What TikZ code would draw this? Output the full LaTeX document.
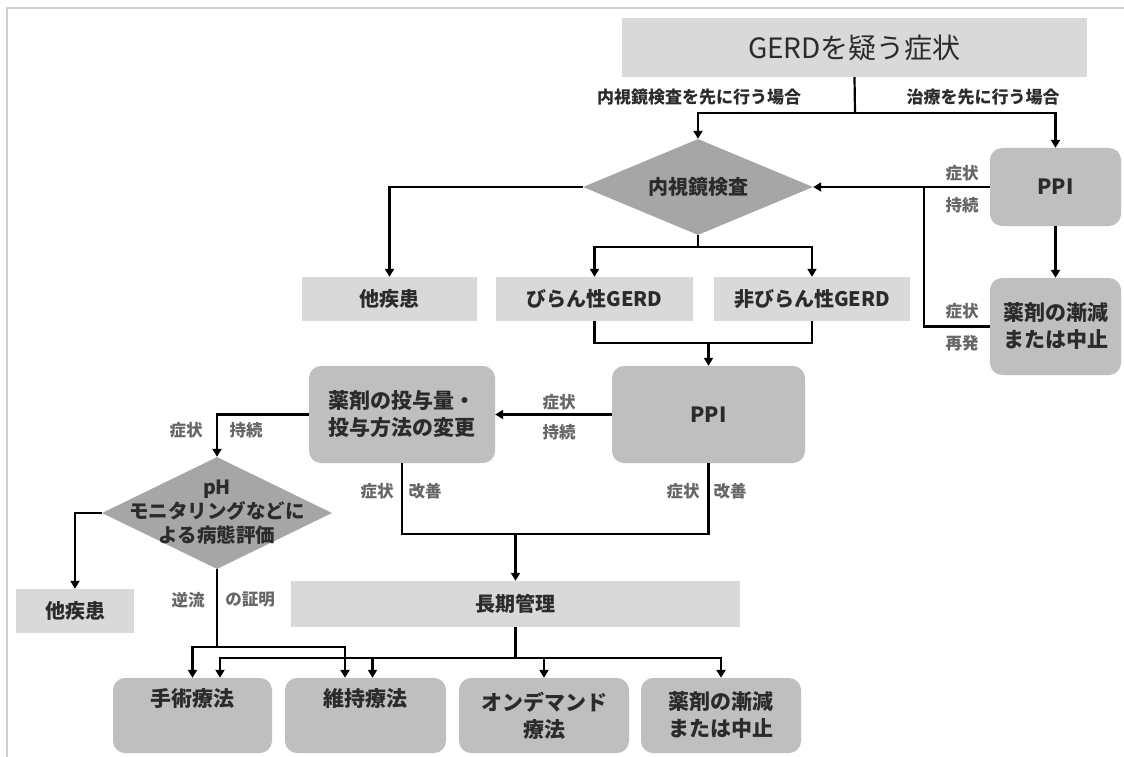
\documentclass[tikz,border=0pt]{standalone}
\usepackage{fontspec}
\setmainfont{Noto Sans CJK JP}
\usetikzlibrary{arrows.meta,shapes.geometric}
\definecolor{boxlight}{HTML}{D9D9D9}
\definecolor{boxmid}{HTML}{BFBFBF}
\definecolor{diagray}{HTML}{A6A6A6}
\definecolor{labgray}{HTML}{666666}
\definecolor{txt}{HTML}{2B2B2B}
\definecolor{frameclr}{HTML}{D0D0D0}
\begin{document}
\begin{tikzpicture}[x=1pt,y=-1pt,
  flat/.style={rectangle,fill=boxlight,inner sep=0pt,text=txt,minimum height=44pt,font=\bfseries\fontsize{20}{25}\selectfont},
  rbox/.style={rectangle,rounded corners=12pt,fill=boxmid,inner sep=0pt,text=txt,align=center,font=\bfseries\fontsize{21}{27}\selectfont},
  diabox/.style={diamond,fill=diagray,inner sep=0pt,shape aspect=2.4},
  diatext/.style={text=txt,align=center,inner sep=0pt,font=\bfseries\fontsize{20}{24}\selectfont},
  conn/.style={line width=2.2pt,draw=black},
  arr/.style={conn,-{Triangle[length=8pt,width=9pt]}},
  lab/.style={text=labgray,inner sep=0pt,font=\bfseries\fontsize{16.5}{18}\selectfont},
  toplab/.style={text=txt,inner sep=0pt,font=\bfseries\fontsize{17}{19}\selectfont}
]
\useasboundingbox (0,0) rectangle (1124,757);
\fill[white] (0,0) rectangle (1124,757);
\draw[draw=frameclr,line width=1.8pt] (7,757) -- (7,8) -- (1124,8);

% nodes
\node[flat,minimum width=465pt,minimum height=59pt,font=\fontsize{28}{32}\selectfont] (gerd) at (854.5,47.5) {GERDを疑う症状};
\node[toplab] (lab1) at (699,97) {内視鏡検査を先に行う場合};
\node[toplab] (lab2) at (983,97) {治療を先に行う場合};

\node[diabox,minimum width=230pt,minimum height=96pt] (d1) at (698,187) {};
\node[diatext] (d1t) at (698,187) {内視鏡検査};

\node[rbox,minimum width=131pt,minimum height=78pt] (ppiR) at (1055.5,187) {PPI};
\node[rbox,minimum width=131pt,minimum height=97pt] (genR) at (1055.5,326.5) {薬剤の漸減\\または中止};

\node[flat,minimum width=175pt] (other1) at (389.5,299) {他疾患};
\node[flat,minimum width=197pt] (erosive) at (594.5,299) {びらん性GERD};
\node[flat,minimum width=196pt] (nonerosive) at (812,299) {非びらん性GERD};

\node[rbox,minimum width=193pt,minimum height=97pt] (ppiC) at (708.5,414.5) {PPI};
\node[rbox,minimum width=186pt,minimum height=97pt] (change) at (402,414.5) {薬剤の投与量・\\投与方法の変更};

\node[diabox,minimum width=230pt,minimum height=112pt] (d2) at (217,513) {};
\node[diatext,font=\bfseries\fontsize{19.5}{24}\selectfont] (d2t) at (217,512) {pH\\モニタリングなどに\\よる病態評価};

\node[flat,minimum width=118pt] (other2) at (75,611) {他疾患};
\node[flat,minimum width=449pt,minimum height=46pt] (longterm) at (515.5,604) {長期管理};

\node[rbox,minimum width=159pt,minimum height=75pt] (surg) at (192.5,715.5) {手術療法\\\strut};
\node[rbox,minimum width=161pt,minimum height=75pt] (maint) at (365.5,715.5) {維持療法\\\strut};
\node[rbox,minimum width=170pt,minimum height=75pt] (ondemand) at (544,715.5) {オンデマンド\\療法};
\node[rbox,minimum width=160pt,minimum height=75pt] (taper) at (721,715.5) {薬剤の漸減\\または中止};

% labels
\node[lab] (l1a) at (962,173) {症状};
\node[lab] (l1b) at (962,205) {持続};
\node[lab] (l2a) at (962,311) {症状};
\node[lab] (l2b) at (962,343) {再発};
\node[lab] (l3a) at (559,402) {症状};
\node[lab] (l3b) at (559,432) {持続};
\node[lab] (l4a) at (186,430) {症状};
\node[lab] (l4b) at (246,430) {持続};
\node[lab] (l5a) at (377,491) {症状};
\node[lab] (l5b) at (425,491) {改善};
\node[lab] (l6a) at (683,491) {症状};
\node[lab] (l6b) at (730,491) {改善};
\node[lab] (l7a) at (188,600) {逆流};
\node[lab] (l7b) at (250,600) {の証明};

% connectors
\coordinate (j0) at (855,113);
\draw[conn] (gerd.south) -- (j0);
\draw[arr] (j0) -| (d1.north);
\draw[arr] (j0) -| (ppiR.north);
\draw[arr] (ppiR.west) -- (d1.east);
\coordinate (j1) at (924,187);
\draw[conn] (genR.west) -| (j1);
\draw[arr] (ppiR.south) -- (genR.north);
\draw[arr] (d1.west) -| (other1.north);
\coordinate (j2) at (698,247);
\draw[conn] (d1.south) -- (j2);
\draw[arr] (j2) -| (erosive.north);
\draw[arr] (j2) -| (nonerosive.north);
\coordinate (j3) at (708.5,343);
\draw[conn] (erosive.south) |- (j3);
\draw[conn] (nonerosive.south) |- (j3);
\draw[arr] (j3) -- (ppiC.north);
\draw[arr] (ppiC.west) -- (change.east);
\draw[arr] (change.west) -| (d2.north);
\draw[arr] (d2.west) -| (other2.north);
\coordinate (j4) at (515.5,534);
\draw[conn] (change.south) |- (j4);
\draw[conn] (ppiC.south) |- (j4);
\draw[arr] (j4) -- (longterm.north);
\coordinate (j5) at (217,647);
\draw[conn] (d2.south) -- (j5);
\draw[arr] (j5) -| (surg.north);
\draw[arr] (j5) -| ([xshift=-20.5pt]maint.north);
\coordinate (j6) at (515.5,658);
\draw[conn] (longterm.south) -- (j6);
\draw[arr] (j6) -| ([xshift=27.5pt]surg.north);
\draw[arr] (j6) -| ([xshift=7pt]maint.north);
\draw[arr] (j6) -| (ondemand.north);
\draw[arr] (j6) -| (taper.north);
\end{tikzpicture}
\end{document}
